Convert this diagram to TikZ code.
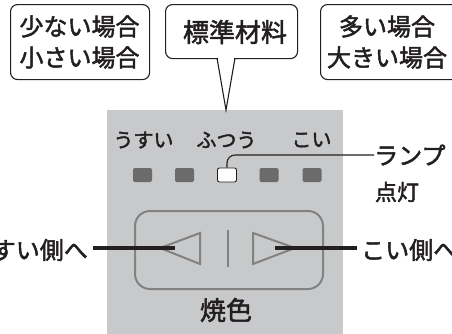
\documentclass[tikz,border=0pt]{standalone}
\usepackage{fontspec}
\newfontfamily\jp{Noto Sans CJK JP}[FakeBold=2]
\definecolor{panelgray}{HTML}{C8C9CA}
\definecolor{lampgray}{HTML}{6B6B6B}
\definecolor{btngray}{HTML}{828282}
\definecolor{ink}{HTML}{231F20}
\tikzset{
  x=1pt,y=1pt,
  labelbox/.style={draw=ink,line width=1.1pt,rounded corners=7pt,fill=white,inner sep=0pt},
  lampdark/.style={fill=lampgray,rounded corners=2pt,minimum width=19pt,minimum height=14pt,inner sep=0pt},
  lamplit/.style={fill=white,draw=ink,line width=0.9pt,rounded corners=2pt,minimum width=19pt,minimum height=14pt,inner sep=0pt},
  txt/.style={inner sep=0pt,text=ink,font=\jp},
  leader/.style={draw=ink,line width=1.1pt},
  pointer/.style={draw=ink,line width=3.2pt},
  btn/.style={draw=btngray,line width=2pt}
}
\begin{document}
\begin{tikzpicture}
\useasboundingbox (0,0) rectangle (452,-333);
\clip (0,0) rectangle (452,-333);
% panel
\node[fill=panelgray,inner sep=0pt,minimum width=236pt,minimum height=225pt,anchor=north west] (panel) at (107,-110) {};
% top boxes
\node[labelbox,minimum width=139pt,minimum height=75pt,anchor=north west] (few) at (10,-4) {};
\node[txt,font=\jp\fontsize{24}{31}\selectfont,align=center] (fewt) at (79.5,-42) {少ない場合\\小さい場合};
\node[labelbox,minimum width=140pt,minimum height=75pt,anchor=north west] (many) at (320,-4) {};
\node[txt,font=\jp\fontsize{24}{31}\selectfont,align=center] (manyt) at (387,-42) {多い場合\\大きい場合};
\node[labelbox,minimum width=132pt,minimum height=54pt,anchor=north west] (std) at (165,-4) {};
\node[txt,font=\jp\fontsize{26}{30}\selectfont] (stdt) at (235,-32) {標準材料};
\coordinate (tip) at (226,-110);
\fill[white] (217.6,-56.5) rectangle (234.4,-59.8);
\draw[leader,line join=miter] (217,-58) -- (tip) -- (235,-58);
% scale labels
\node[txt,font=\jp\fontsize{20}{24}\selectfont] (usui) at (143.5,-140) {うすい};
\node[txt,font=\jp\fontsize{20}{24}\selectfont] (futsuu) at (226.5,-140) {ふつう};
\node[txt,font=\jp\fontsize{20}{24}\selectfont] (koi) at (311.5,-140) {こい};
% lamps
\node[lampdark] (l1) at (142.5,-175) {};
\node[lampdark] (l2) at (184.5,-175) {};
\node[lamplit] (l3) at (227,-175) {};
\node[lampdark] (l4) at (269,-175) {};
\node[lampdark] (l5) at (312,-175) {};
% lamp label
\node[txt,font=\jp\fontsize{24}{28}\selectfont,anchor=west] (lampt) at (374,-155) {ランプ};
\node[txt,font=\jp\fontsize{22}{26}\selectfont] (lit) at (397,-192) {点灯};
\draw[leader,rounded corners=8pt] (l3.north) |- (lampt.west);
% button
\node[btn,rounded corners=15pt,minimum width=188pt,minimum height=78pt,anchor=north west,inner sep=0pt] (button) at (134,-210) {};
\draw[btn,line join=miter] (200,-233) -- (160,-248) -- (200,-264) -- cycle;
\draw[btn,line join=miter] (253,-233) -- (295,-248) -- (253,-264) -- cycle;
\draw[btn,line width=1.6pt] (228,-230) -- (228,-267);
\node[txt,font=\jp\fontsize{26}{30}\selectfont] (yaki) at (226,-310) {焼色};
% side labels and pointers
\node[txt,font=\jp\fontsize{24}{28}\selectfont,anchor=east] (toUsui) at (88,-250) {うすい側へ};
\node[txt,font=\jp\fontsize{24}{28}\selectfont,anchor=west] (toKoi) at (361,-250) {こい側へ};
\coordinate (pl) at (175,-248);
\coordinate (pr) at (275,-248);
\draw[pointer] (93,-248) -- (pl);
\draw[pointer] (pr) -- (357,-248);
\end{tikzpicture}
\end{document}
